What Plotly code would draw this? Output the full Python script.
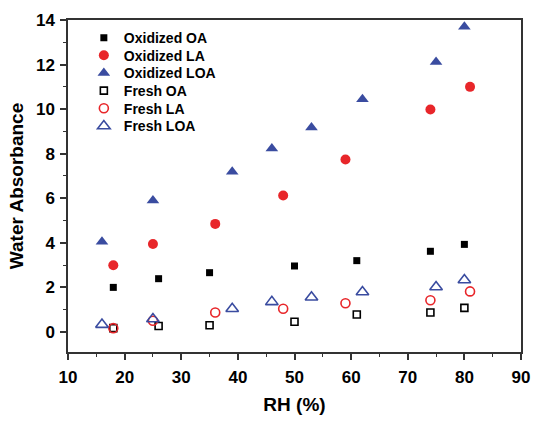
import plotly.graph_objects as go

rh_ox_oa = [18, 26, 35, 50, 61, 74, 80]
ox_oa = [2.0, 2.39, 2.66, 2.96, 3.2, 3.62, 3.93]
rh_ox_la = [18, 25, 36, 48, 59, 74, 81]
ox_la = [2.99, 3.95, 4.85, 6.12, 7.74, 9.98, 11.0]
rh_ox_loa = [16, 25, 39, 46, 53, 62, 75, 80]
ox_loa = [4.05, 5.9, 7.19, 8.23, 9.17, 10.44, 12.12, 13.7]
rh_fr_oa = [18, 26, 35, 50, 61, 74, 80]
fr_oa = [0.17, 0.27, 0.3, 0.46, 0.78, 0.87, 1.08]
rh_fr_la = [18, 25, 36, 48, 59, 74, 81]
fr_la = [0.17, 0.5, 0.87, 1.04, 1.29, 1.42, 1.82]
rh_fr_loa = [16, 25, 39, 46, 53, 62, 75, 80]
fr_loa = [0.33, 0.58, 1.04, 1.35, 1.56, 1.79, 2.02, 2.33]

RED = "#e8262a"
BLUE = "#3a4ca0"
BLACK = "#000000"
FONT = "Liberation Sans, Arial"

series = [
    ("Oxidized OA", rh_ox_oa, ox_oa, "square", BLACK, 7),
    ("Oxidized LA", rh_ox_la, ox_la, "circle", RED, 10),
    ("Oxidized LOA", rh_ox_loa, ox_loa, "triangle-up", BLUE, 11),
    ("Fresh OA", rh_fr_oa, fr_oa, "square-open", BLACK, 7),
    ("Fresh LA", rh_fr_la, fr_la, "circle-open", RED, 9),
    ("Fresh LOA", rh_fr_loa, fr_loa, "triangle-up-open", BLUE, 11),
]

# plot area (pixels) used to place legend rows
PLOT_TOP, PLOT_BOTTOM = 19, 363
ROW0, ROW_STEP = 37.7, 18.3

fig = go.Figure()
layout_legends = {}
for i, (name, x, y, sym, col, sz) in enumerate(series):
    lname = "legend" if i == 0 else f"legend{i + 1}"
    fig.add_trace(go.Scatter(
        x=x, y=y, mode="markers", name=name, legend=lname,
        marker=dict(symbol=sym, color=col, size=sz,
                    line=dict(color=col, width=1.6 if "open" in sym else 0)),
    ))
    yc = ROW0 + i * ROW_STEP
    layout_legends[lname] = dict(
        x=0.035, y=(PLOT_BOTTOM - yc) / (PLOT_BOTTOM - PLOT_TOP),
        xanchor="left", yanchor="middle",
        bgcolor="rgba(0,0,0,0)",
        font=dict(family=FONT, size=14, color="black", weight="bold"),
        itemsizing="trace",
    )

axis_common = dict(
    showline=True, linecolor="#333333", linewidth=1.5, mirror=True,
    ticks="outside", ticklen=6, tickwidth=1.5, tickcolor="#333333",
    showgrid=False, zeroline=False,
    tickfont=dict(family=FONT, size=17, color="black", weight="bold"),
)

fig.update_xaxes(
    range=[10, 90], dtick=10, tick0=10, ticklabelstandoff=3,
    minor=dict(dtick=5, ticks="outside", ticklen=3, tickwidth=1.2, tickcolor="#333333"),
    title=dict(text="RH (%)", font=dict(family=FONT, size=19, color="black", weight="bold"), standoff=12),
    **axis_common,
)
fig.update_yaxes(
    range=[-0.9, 14], dtick=2, tick0=0, ticklabelstandoff=2,
    minor=dict(dtick=1, ticks="outside", ticklen=3, tickwidth=1.2, tickcolor="#333333"),
    title=dict(text="Water Absorbance", font=dict(family=FONT, size=19, color="black", weight="bold"), standoff=7),
    **axis_common,
)

fig.update_layout(
    width=541, height=423,
    margin=dict(l=68, r=11, t=PLOT_TOP, b=423 - PLOT_BOTTOM),
    paper_bgcolor="white", plot_bgcolor="white",
    showlegend=True,
    **layout_legends,
)

fig.write_html("out.html")
